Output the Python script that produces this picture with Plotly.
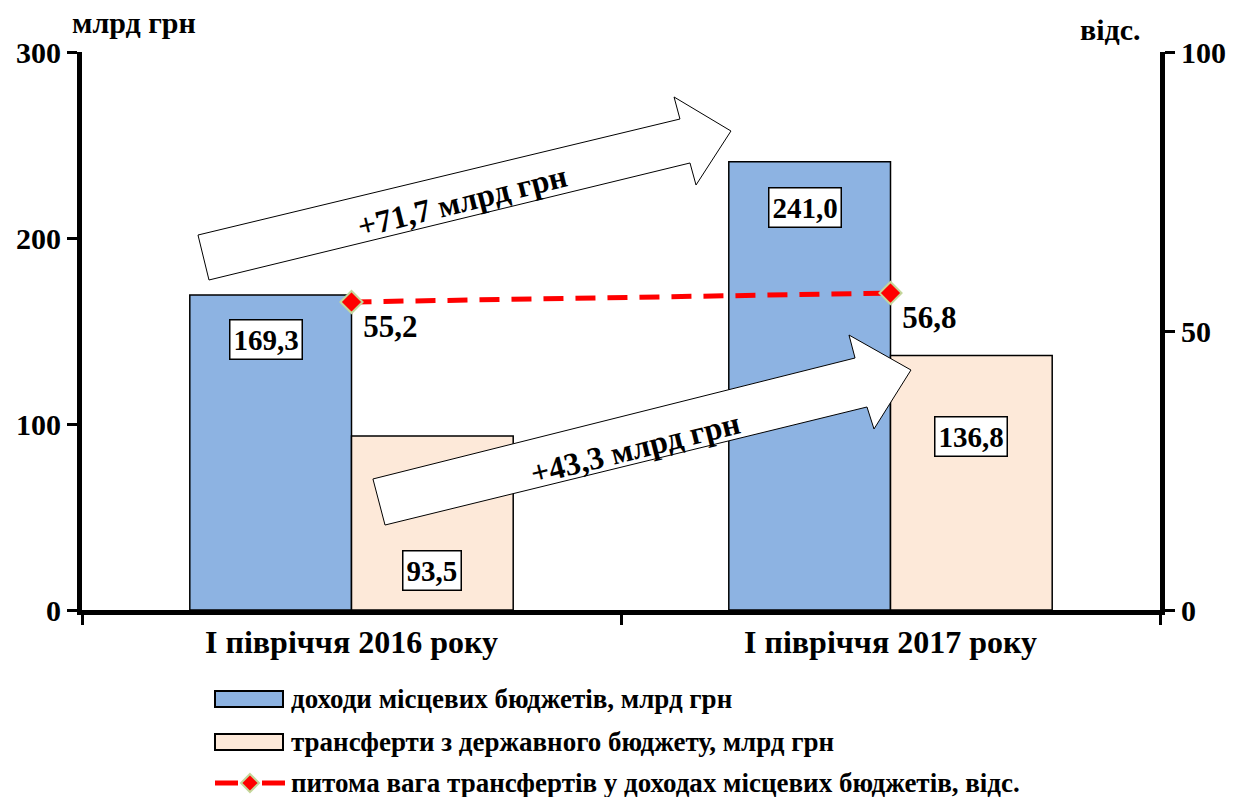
import plotly.graph_objects as go

# ---- data ----
categories = ["І півріччя 2016 року", "І півріччя 2017 року"]
revenues = [169.3, 241.0]          # доходи місцевих бюджетів, млрд грн
transfers = [93.5, 136.8]          # трансферти з державного бюджету, млрд грн
share = [55.2, 56.8]               # питома вага трансфертів, відс.
growth_labels = ["+71,7 млрд грн", "+43,3 млрд грн"]

series_names = [
    "доходи місцевих бюджетів, млрд грн",
    "трансферти з державного бюджету, млрд грн",
    "питома вага трансфертів у доходах місцевих бюджетів, відс.",
]

FONT = '"Liberation Serif", "Times New Roman", "DejaVu Serif", serif'
BLUE = "#8DB3E2"
PEACH = "#FDE9D9"
RED = "#FF0000"
MARKER_EDGE = "#C4D79B"

def fmt(v):
    return f"{v:.1f}".replace(".", ",")

fig = go.Figure()
fig.add_trace(go.Bar(x=categories, y=revenues, name=series_names[0],
                     marker=dict(color=BLUE, line=dict(color="black", width=1.5))))
fig.add_trace(go.Bar(x=categories, y=transfers, name=series_names[1],
                     marker=dict(color=PEACH, line=dict(color="black", width=1.5))))
fig.add_trace(go.Scatter(x=categories, y=share, name=series_names[2], yaxis="y2",
                         mode="lines+markers+text",
                         text=[fmt(v) for v in share],
                         textposition="bottom right",
                         textfont=dict(family=FONT, size=31, color="black", weight="bold"),
                         line=dict(color=RED, width=5, dash="20px,12px"),
                         marker=dict(symbol="diamond", size=17, color=RED,
                                     line=dict(color=MARKER_EDGE, width=2)),
                         cliponaxis=False))

# plot area in pixels
W, H = 1234, 797
L, R, T, B = 82, 74, 52, 187
pw, ph = W - L - R, H - T - B

def px(x, y):
    return (x - L) / pw, (H - B - y) / ph

# bar value labels (boxed); pixel shifts per (series, category)
bar_label_shift = {(0, 0): -44, (0, 1): -46, (1, 0): -134, (1, 1): -81}
annotations = []
for s, vals in enumerate([revenues, transfers]):
    for i, v in enumerate(vals):
        annotations.append(dict(
            x=i - 0.15 + 0.3 * s, y=v, xref="x", yref="y",
            text=fmt(v), showarrow=False, yshift=bar_label_shift[(s, i)],
            xshift=-5 if s == 0 else 0,
            font=dict(family=FONT, size=29, color="black", weight="bold"),
            bgcolor="white", bordercolor="black", borderwidth=1.5, borderpad=3))

# block arrows (decorations)
arrow_pts = [
    [(198, 235), (680, 119), (674, 97), (731, 131), (696, 185), (690, 163), (209, 280)],
    [(373, 479), (855, 358), (849, 335), (911, 370), (874, 429), (867, 407), (385, 525)],
]
text_pos = [(462, 201, -14), (635, 448, -14)]
shapes = []
for pts, lab, (tx, ty, ang) in zip(arrow_pts, growth_labels, text_pos):
    path = "M " + " L ".join(f"{px(x, y)[0]:.4f},{px(x, y)[1]:.4f}" for x, y in pts) + " Z"
    shapes.append(dict(type="path", xref="paper", yref="paper", path=path,
                       fillcolor="white", line=dict(color="black", width=1)))
    ax_, ay_ = px(tx, ty)
    annotations.append(dict(x=ax_, y=ay_, xref="paper", yref="paper", text=lab,
                            xanchor="center", yanchor="middle",
                            showarrow=False, textangle=ang,
                            font=dict(family=FONT, size=32, color="black", weight="bold")))

# axis unit titles
for tx, ty, lab in [(134, 22, "млрд грн"), (1110, 30, "відс.")]:
    ax_, ay_ = px(tx, ty)
    annotations.append(dict(x=ax_, y=ay_, xref="paper", yref="paper", text=lab,
                            xanchor="center", yanchor="middle", showarrow=False,
                            font=dict(family=FONT, size=30, color="black", weight="bold")))

# legend drawn below the plot (wide swatches as in the original)
leg_rows = [699, 742, 783]
sx0, sx1 = 215, 283
for k, (name, yrow) in enumerate(zip(series_names, leg_rows)):
    if k < 2:
        a = px(sx0, yrow - 8); b = px(sx1, yrow + 8)
        shapes.append(dict(type="rect", xref="paper", yref="paper",
                           x0=a[0], y0=a[1], x1=b[0], y1=b[1],
                           fillcolor=[BLUE, PEACH][k], line=dict(color="black", width=2)))
    else:
        for x0, x1 in [(215, 238), (262, 285)]:
            a = px(x0, yrow); b = px(x1, yrow)
            shapes.append(dict(type="line", xref="paper", yref="paper",
                               x0=a[0], y0=a[1], x1=b[0], y1=b[1],
                               line=dict(color=RED, width=5)))
        cx, cy = 250, yrow
        d = 9
        dpts = [(cx, cy - d), (cx + d, cy), (cx, cy + d), (cx - d, cy)]
        path = "M " + " L ".join(f"{px(x, y)[0]:.4f},{px(x, y)[1]:.4f}" for x, y in dpts) + " Z"
        shapes.append(dict(type="path", xref="paper", yref="paper", path=path,
                           fillcolor=RED, line=dict(color=MARKER_EDGE, width=2)))
    tx, ty = px(289, yrow)
    annotations.append(dict(x=tx, y=ty, xref="paper", yref="paper", text=name,
                            xanchor="left", yanchor="middle", showarrow=False,
                            font=dict(family=FONT, size=27, color="black", weight="bold")))

tickfont = dict(family=FONT, size=30, color="black", weight="bold")
fig.update_layout(
    width=W, height=H,
    margin=dict(l=L, r=R, t=T, b=B, autoexpand=False),
    paper_bgcolor="white", plot_bgcolor="white",
    barmode="group", bargap=0.4, bargroupgap=0,
    shapes=shapes, annotations=annotations,
    showlegend=False,
    xaxis=dict(range=[-0.5, 1.5], showgrid=False, showline=True, linecolor="black",
               linewidth=5, ticks="outside", tickson="boundaries", ticklen=10,
               tickwidth=3, tickcolor="black", automargin=False,
               tickfont=dict(family=FONT, size=32, color="black", weight="bold")),
    yaxis=dict(range=[0, 300], tickvals=[0, 100, 200, 300], showgrid=False,
               showline=True, linecolor="black", linewidth=5, ticks="outside",
               ticklen=10, tickwidth=3, tickcolor="black", tickfont=tickfont,
               zeroline=False, automargin=False),
    yaxis2=dict(range=[0, 100], tickvals=[0, 50, 100], overlaying="y", side="right",
                showgrid=False, showline=True, linecolor="black", linewidth=5,
                ticks="outside", ticklen=10, tickwidth=3, tickcolor="black",
                tickfont=tickfont, zeroline=False, automargin=False),
)

fig.write_html("out.html", config={"displayModeBar": False},
               post_script="document.body.style.margin='0';document.body.style.padding='0';")
